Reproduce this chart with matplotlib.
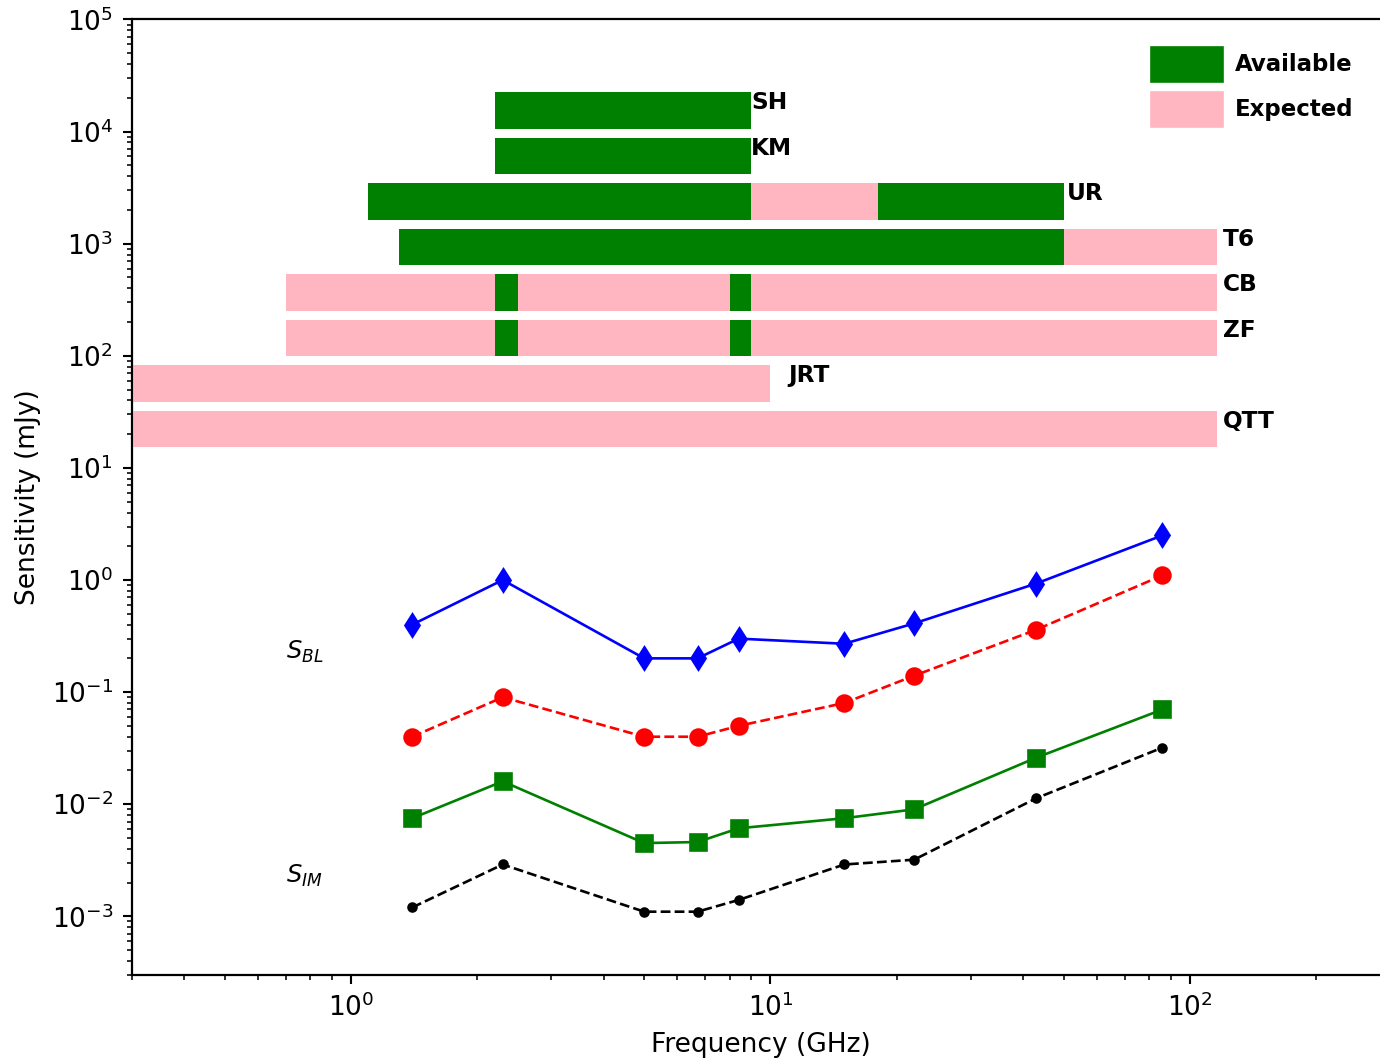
import matplotlib
matplotlib.use('Agg')
import matplotlib.pyplot as plt
from matplotlib.patches import Patch

# frequencies (GHz) and sensitivities (mJy)
freq = [1.4, 2.3, 5.0, 6.7, 8.4, 15, 22, 43, 86]
s_blue = [0.4, 1.0, 0.2, 0.2, 0.3, 0.27, 0.41, 0.93, 2.5]
s_red = [0.04, 0.09, 0.04, 0.04, 0.05, 0.08, 0.14, 0.36, 1.1]
s_green = [0.0075, 0.016, 0.0045, 0.0046, 0.0061, 0.0075, 0.009, 0.026, 0.07]
s_black = [0.0012, 0.0029, 0.0011, 0.0011, 0.0014, 0.0029, 0.0032, 0.0113, 0.032]

# telescopes, bottom row first
stations = ['QTT', 'JRT', 'ZF', 'CB', 'T6', 'UR', 'KM', 'SH']
label_x = [120, 11, 120, 120, 120, 51, 9, 9]
available = {
    'SH': [(2.2, 9)],
    'KM': [(2.2, 9)],
    'UR': [(1.1, 9), (18, 50)],
    'T6': [(1.3, 50)],
    'CB': [(2.2, 2.5), (8, 9)],
    'ZF': [(2.2, 2.5), (8, 9)],
    'JRT': [],
    'QTT': [],
}
expected = {
    'SH': [],
    'KM': [],
    'UR': [(9, 18)],
    'T6': [(50, 116)],
    'CB': [(0.7, 116)],
    'ZF': [(0.7, 116)],
    'JRT': [(0.3, 10)],
    'QTT': [(0.3, 116)],
}

fig = plt.figure(figsize=(1380/190, 1058/190), dpi=190)
ax = fig.add_axes([0.0954, 0.0785, 0.9119, 0.9031])

ax.plot(freq, s_blue, 'b-', marker='d', ms=6, lw=1)
ax.plot(freq, s_red, 'r--', marker='o', ms=6, lw=1)
ax.plot(freq, s_green, 'g-', marker='s', ms=6, lw=1)
ax.plot(freq, s_black, 'k--', marker='.', ms=6, lw=1)

ax.text(0.7, 0.2, r'$S_{BL}$', fontsize=9.2)
ax.text(0.7, 0.002, r'$S_{IM}$', fontsize=9.2)

ax.set_xscale('log')
ax.set_yscale('log')
ax.set_xlim(0.3, 300)
ax.set_ylim(3e-4, 1e5)
ax.set_xlabel('Frequency (GHz)')
ax.set_ylabel('Sensitivity (mJy)')

ax2 = ax.twinx()
ax2.set_ylim(-12, 9)
ax2.set_yticks([])
for i, st in enumerate(stations):
    for a, b in expected[st]:
        ax2.barh(i, b - a, left=a, height=0.8, color='lightpink')
    for a, b in available[st]:
        ax2.barh(i, b - a, left=a, height=0.8, color='green')
    ax2.text(label_x[i], i + 0.17, st, fontsize=8.8, fontweight='bold', va='center')

handles = [Patch(color='green', label='Available'), Patch(color='lightpink', label='Expected')]
leg = ax2.legend(handles=handles, loc='upper left', bbox_to_anchor=(0.8102, 0.9715),
                 frameon=False, fontsize=8.7, handlelength=3.1, handleheight=1.9,
                 labelspacing=0.5, handletextpad=0.55, borderaxespad=0, borderpad=0)
for t in leg.get_texts():
    t.set_fontweight('bold')

fig.savefig('out.png', dpi=190)
